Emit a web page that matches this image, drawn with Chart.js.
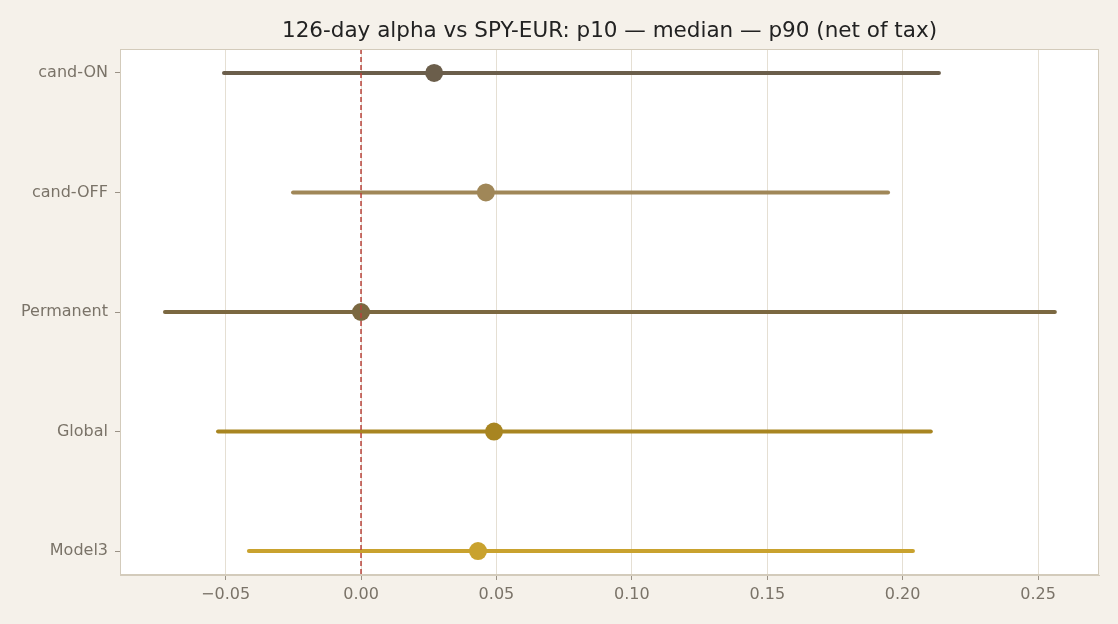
<!DOCTYPE html>
<html><head><meta charset="utf-8">
<script src="https://cdn.jsdelivr.net/npm/chart.js@4/dist/chart.umd.min.js"></script>
<style>html,body{margin:0;padding:0;background:#f5f1ea;}#wrap{width:1118px;height:624px;}</style>
</head><body><div id="wrap"><canvas id="c" width="1118" height="624"></canvas></div>
<script>
const categories = ["cand-ON", "cand-OFF", "Permanent", "Global", "Model3"];
const p10 = [-0.0506, -0.0251, -0.0724, -0.0528, -0.0414];
const median = [0.027, 0.0461, 0.0, 0.0491, 0.0432];
const p90 = [0.2134, 0.1946, 0.2562, 0.2104, 0.2038];
const colors = ["#6b5e4b", "#a08758", "#7b6841", "#a88521", "#c9a22e"];
const xTicks = [-0.05, 0.0, 0.05, 0.10, 0.15, 0.20, 0.25];
const titleText = "126-day alpha vs SPY-EUR: p10 \u2014 median \u2014 p90 (net of tax)";

const datasets = [];
categories.forEach((c, i) => {
  datasets.push({
    type: 'scatter', showLine: true, order: 3,
    data: [{x: p10[i], y: i}, {x: p90[i], y: i}],
    borderColor: colors[i], borderWidth: 4, borderCapStyle: 'round',
    pointRadius: 0, pointHoverRadius: 0
  });
});
datasets.push({
  type: 'scatter', order: 2,
  data: categories.map((c, i) => ({x: median[i], y: i})),
  pointRadius: 9, pointBackgroundColor: colors, pointBorderColor: colors, pointBorderWidth: 0
});
datasets.push({
  type: 'scatter', showLine: true, order: 1,
  data: [{x: 0, y: -0.2}, {x: 0, y: 4.2}],
  borderColor: "#b8433b", borderWidth: 1.5, borderDash: [5, 3], pointRadius: 0
});

const bgPlugin = {
  id: 'bg',
  beforeDraw(chart) {
    const {ctx, chartArea: a} = chart;
    ctx.save();
    ctx.fillStyle = '#f5f1ea';
    ctx.fillRect(0, 0, chart.width, chart.height);
    ctx.fillStyle = '#ffffff';
    ctx.fillRect(a.left, a.top, a.right - a.left, a.bottom - a.top);
    ctx.restore();
  },
  afterDraw(chart) {
    const {ctx, chartArea: a} = chart;
    ctx.save();
    ctx.strokeStyle = '#d3cbbb';
    ctx.lineWidth = 1;
    ctx.strokeRect(a.left + 0.5, a.top + 0.5, a.right - a.left - 1, a.bottom - a.top - 1);
    ctx.fillStyle = '#222222';
    ctx.font = '21.5px "DejaVu Sans"';
    ctx.textAlign = 'center';
    ctx.textBaseline = 'middle';
    ctx.fillText(titleText, (a.left + a.right) / 2, 31);
    ctx.restore();
  }
};

new Chart(document.getElementById('c'), {
  type: 'scatter',
  data: {datasets},
  plugins: [bgPlugin],
  options: {
    responsive: false, animation: false,
    layout: {padding: {left: 0, right: 19, top: 49, bottom: 0}},
    plugins: {legend: {display: false}, tooltip: {enabled: false}, title: {display: false}},
    scales: {
      x: {
        type: 'linear', min: -0.089, max: 0.2725,
        afterBuildTicks: (s) => { s.ticks = xTicks.map(v => ({value: v})); },
        afterFit: (s) => { s.height = 49; },
        grid: {color: '#e5dfd3', lineWidth: 1, tickLength: 5, tickColor: '#9a9286', drawTicks: true},
        border: {color: '#d3cbbb'},
        ticks: {
          color: '#7a7368', font: {family: 'DejaVu Sans', size: 16}, padding: 5,
          callback: (v) => (v < 0 ? '\u2212' : '') + Math.abs(v).toFixed(2)
        }
      },
      y: {
        type: 'linear', min: -0.2, max: 4.2, reverse: true,
        afterBuildTicks: (s) => { s.ticks = categories.map((c, i) => ({value: i})); },
        afterFit: (s) => { s.width = 120; },
        grid: {drawOnChartArea: false, tickLength: 5, tickColor: '#9a9286'},
        border: {color: '#d3cbbb'},
        ticks: {
          color: '#7a7368', font: {family: 'DejaVu Sans', size: 16}, padding: 7,
          callback: (v) => categories[v]
        }
      }
    }
  }
});
</script></body></html>
